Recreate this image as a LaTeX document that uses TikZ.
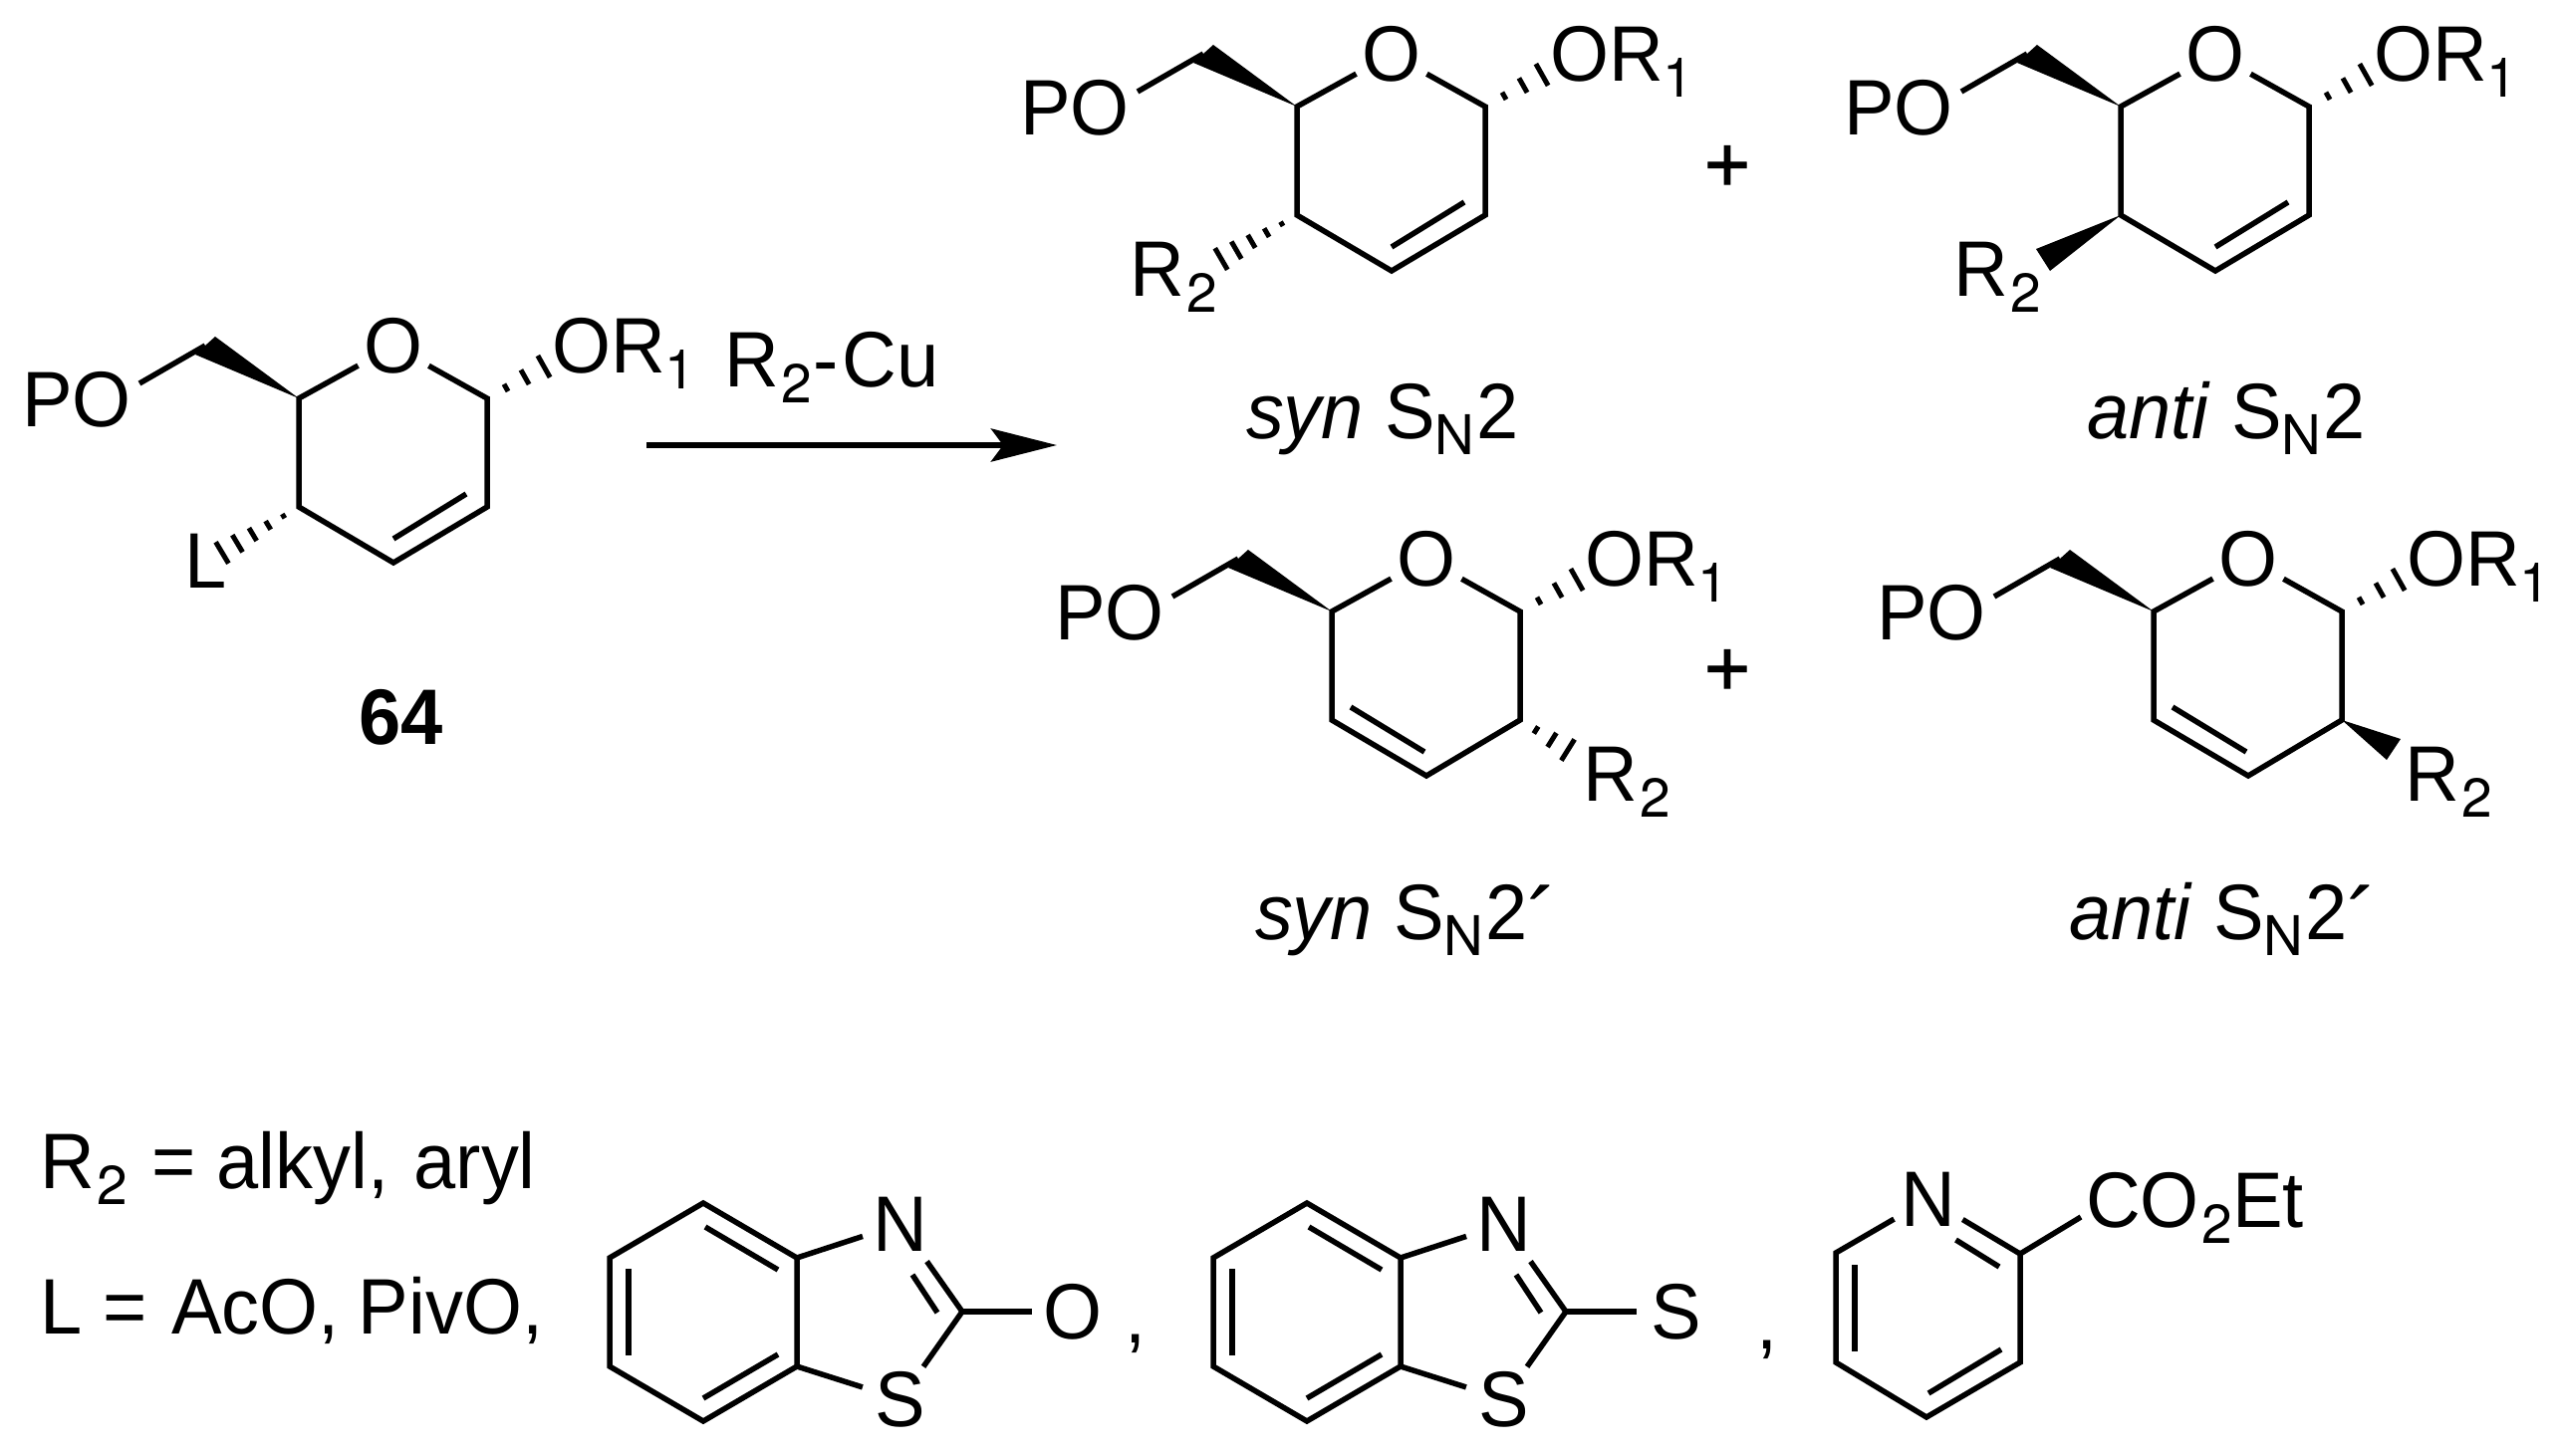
\documentclass[tikz,border=0pt]{standalone}
\usepackage{fontspec}
\setmainfont[FakeStretch=0.96]{Liberation Sans}
\newfontfamily\subfam{TeX Gyre Heros}
\newfontfamily\plusfam[FakeBold=1.2]{Liberation Sans}
\usetikzlibrary{calc,arrows.meta}
\newcommand{\atomfont}{\fontsize{39.5}{39.5}\selectfont}
\newcommand{\sbs}[1]{\raisebox{-8.25pt}{\subfam\fontsize{27.5}{27.5}\selectfont #1}}
\newcommand{\sbt}{\kern1.5pt\sbs{2}}
\newcommand{\snlabel}{S\sbs{N}\kern1pt 2}
\newcommand{\primemark}{\raisebox{-8pt}{\fontsize{48}{48}\selectfont ´}}
\tikzset{
  bond/.style={line width=2.75pt,line join=miter},
  thickbond/.style={line width=3.25pt},
  hashln/.style={line width=2.5pt},
  wedgefill/.style={fill=black},
  lab/.style={inner sep=0pt,outer sep=0pt,anchor=base west,font=\atomfont},
  ctr/.style={inner sep=0pt,outer sep=0pt,anchor=base,font=\atomfont},
  atom/.style={circle,inner sep=0pt,outer sep=0pt,minimum size=40pt,font=\atomfont},
  rxn/.style={line width=3pt,-{Stealth[length=33pt,width=16.5pt,inset=6pt]}}
}
% hashed bond: from #1 to #2 with #3 strokes
\newcommand{\hashb}[3]{%
  \foreach \k in {1,...,#3}{%
    \pgfmathsetmacro\tt{\k/#3}%
    \pgfmathsetmacro\dd{6.25*\tt}%
    \draw[hashln] ($(#1)!\tt!(#2)!\dd pt!90:(#1)$) -- ($(#1)!\tt!(#2)!\dd pt!-90:(#1)$);
  }%
}
% pyran skeleton: prefix, shift, extras
\newcommand{\pyran}[3]{%
  \begin{scope}[shift={#2}]
    \coordinate (#1a) at (0,0);
    \coordinate (#1b) at (189,0);
    \coordinate (#1c) at (189,109);
    \coordinate (#1d) at (95,165);
    \coordinate (#1e) at (0,109);
    \coordinate (#1wa) at (-84,-62);
    \coordinate (#1wb) at (-104,-44);
    \coordinate (#1w) at (-94,-53);
    \coordinate (#1pe) at (-160,-15);
    \coordinate (#1oe) at (246,-32);
    \node[atom] (#1O) at (95,-52.5) {O};
    \node[lab] (#1PO) at (-278,28) {PO};
    \node[lab] (#1OR) at (254,-26) {OR\sbs{1}};
    \draw[bond] (#1O) -- (#1a) -- (#1e) -- (#1d) -- (#1c) -- (#1b) -- (#1O);
    \fill[wedgefill] (#1a) -- (#1wa) -- (#1wb) -- cycle;
    \draw[bond] (#1w) -- (#1pe);
    \hashb{#1b}{#1oe}{3}
    #3
  \end{scope}%
}
% double bond on the lower right / lower left of the ring
\newcommand{\dblright}[1]{\coordinate (#1i) at (168,96); \coordinate (#1j) at (95,141); \draw[bond] (#1i) -- (#1j);}
\newcommand{\dblleft}[1]{\coordinate (#1i) at (19,96); \coordinate (#1j) at (93,141); \draw[bond] (#1i) -- (#1j);}
% benzothiazole: prefix, shift, exocyclic atom
\newcommand{\benzot}[3]{%
  \begin{scope}[shift={#2}]
    \coordinate (#1a) at (706,1208);
    \coordinate (#1b) at (800,1263);
    \coordinate (#1c) at (800,1372);
    \coordinate (#1d) at (706,1427);
    \coordinate (#1e) at (612,1372);
    \coordinate (#1f) at (612,1263);
    \coordinate (#1g) at (966,1317);
    \coordinate (#1i1) at (708,1232);
    \coordinate (#1i2) at (781,1275);
    \coordinate (#1i3) at (781,1360);
    \coordinate (#1i4) at (706,1404);
    \coordinate (#1i5) at (631,1274);
    \coordinate (#1i6) at (631,1361);
    \coordinate (#1i7) at (916,1280);
    \coordinate (#1i8) at (941,1318);
    \node[atom] (#1N) at (904,1229) {N};
    \node[atom] (#1S) at (904,1405) {S};
    \node[atom] (#1X) at (1077,1317) {#3};
    \draw[bond] (#1b) -- (#1c) -- (#1d) -- (#1e) -- (#1f) -- (#1a) -- cycle;
    \draw[bond] (#1i1) -- (#1i2);
    \draw[bond] (#1i3) -- (#1i4);
    \draw[bond] (#1i5) -- (#1i6);
    \draw[bond] (#1b) -- (#1N);
    \draw[bond] (#1c) -- (#1S);
    \draw[bond,shorten >=3pt] (#1g) -- (#1N);
    \draw[bond] (#1i7) -- (#1i8);
    \draw[bond] (#1g) -- (#1S);
    \draw[thickbond] (#1g) -- (#1X);
  \end{scope}%
}
\begin{document}
\begin{tikzpicture}[x=0.5pt,y=-0.5pt]
\useasboundingbox (0,0) rectangle (2571,1462);

% compound 64
\pyran{m}{(300,400)}{%
  \dblright{m}
  \coordinate (mh) at (-77,155);
  \hashb{me}{mh}{5}
  \node[lab] (mL) at (-114.5,190) {L};
}
\node[font=\atomfont\bfseries,inner sep=0pt,anchor=base] (m64) at (403,747) {64};

% reaction arrow
\node[lab] (reag) at (727,388) {R\sbt\kern0.5pt-\kern2pt Cu};
\coordinate (arS) at (649,447);
\coordinate (arE) at (1061,447);
\draw[rxn] (arS) -- (arE);

% syn SN2
\pyran{s}{(1302,107)}{%
  \dblright{s}
  \coordinate (sh) at (-76,153);
  \hashb{se}{sh}{5}
  \node[lab] (sR) at (-168,190) {R\sbt};
}
\node[lab] (sl) at (1251,440) {\textit{syn} \snlabel};

% anti SN2
\pyran{t}{(2129,107)}{%
  \dblright{t}
  \coordinate (tw1) at (-85,143);
  \coordinate (tw2) at (-71,165);
  \fill[wedgefill] (te) -- (tw1) -- (tw2) -- cycle;
  \node[lab] (tR) at (-168,190) {R\sbt};
}
\node[lab] (tl) at (2095,440) {\textit{anti} \snlabel};

% syn SN2'
\pyran{u}{(1337,614)}{%
  \dblleft{u}
  \coordinate (uh) at (237,139);
  \hashb{uc}{uh}{3}
  \node[lab] (uR) at (252,190) {R\sbt};
}
\node[lab] (ul) at (1260,943) {\textit{syn} \snlabel\primemark};

% anti SN2'
\pyran{v}{(2162,614)}{%
  \dblleft{v}
  \coordinate (vw1) at (248,128);
  \coordinate (vw2) at (234,149);
  \fill[wedgefill] (vc) -- (vw1) -- (vw2) -- cycle;
  \node[lab] (vR) at (252,190) {R\sbt};
}
\node[lab] (vl) at (2077,943) {\textit{anti} \snlabel\primemark};

% plus signs
\node[ctr] (p1) at (1734,192) {\plusfam +};
\node[ctr] (p2) at (1734,698) {\plusfam +};

% bottom legend
\node[lab] (r2) at (40,1193) {R\sbt\ \kern1.5pt= alkyl, \kern2pt aryl};
\node[lab] (ll) at (40.5,1339) {L = \kern1.5pt AcO,\kern-1pt\ PivO,};

\benzot{b}{(0,0)}{O}
\node[ctr] (c1) at (1140,1348) {,};
\benzot{c}{(606,0)}{S}
\node[ctr] (c2) at (1774,1354) {,};

% pyridine ester
\coordinate (pa) at (1843,1258);
\coordinate (pc) at (2028,1259);
\coordinate (pd) at (2028,1368);
\coordinate (pe) at (1934,1423);
\coordinate (pf) at (1843,1368);
\coordinate (pi1) at (1963.5,1245);
\coordinate (pi2) at (2007,1272);
\coordinate (pi3) at (2009,1355);
\coordinate (pi4) at (1936,1399);
\coordinate (pi5) at (1862,1270);
\coordinate (pi6) at (1862,1357);
\coordinate (pco) at (2089,1222);
\node[atom] (pN) at (1936,1204) {N};
\node[lab] (pest) at (2094,1232) {CO\sbt Et};
\draw[bond] (pN) -- (pa) -- (pf) -- (pe) -- (pd) -- (pc) -- (pN);
\draw[bond] (pi1) -- (pi2);
\draw[bond] (pi3) -- (pi4);
\draw[bond] (pi5) -- (pi6);
\draw[bond] (pc) -- (pco);
\end{tikzpicture}
\end{document}
